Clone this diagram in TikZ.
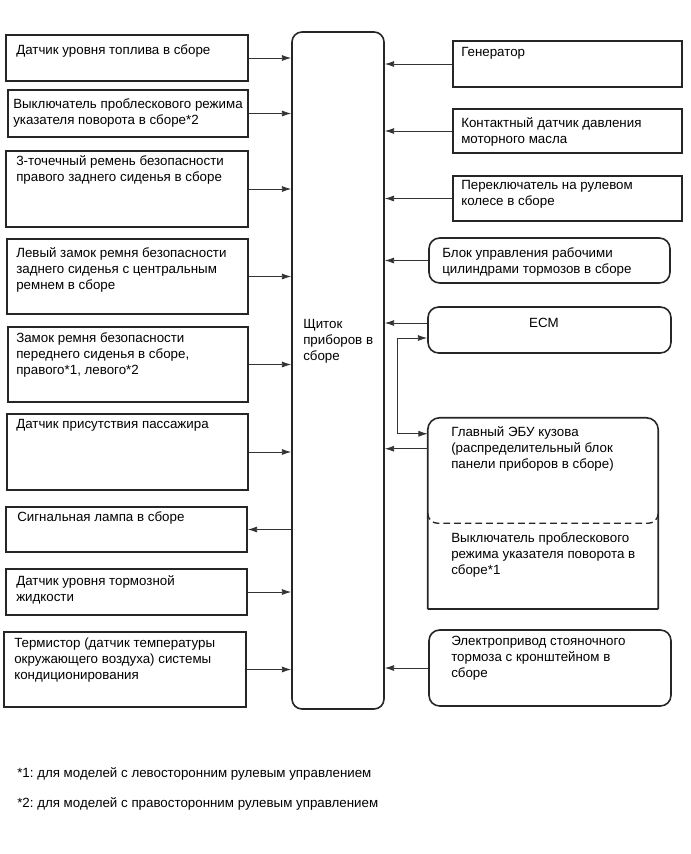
\documentclass[tikz,border=0pt]{standalone}
\usepackage{fontspec}
\setmainfont{Liberation Sans}
\usetikzlibrary{arrows.meta,fit}
\frenchspacing

\begin{document}
\begin{tikzpicture}[x=0.75pt,y=-0.75pt,
  >={Latex[length=7pt,width=4.5pt]},
  box/.style={draw=black!85, line width=1.2pt, inner sep=0pt},
  rbox/.style={box, rounded corners=8pt},
  ghost/.style={inner sep=0pt},
  lbl/.style={anchor=north west, inner sep=0pt, align=left, font=\fontsize{10}{12}\selectfont},
  note/.style={anchor=base west, inner sep=0pt, font=\fontsize{10}{12}\selectfont},
  conn/.style={draw=black!80, line width=0.6pt, ->},
  link/.style={draw=black!80, line width=0.6pt, <->}]

\useasboundingbox (0,0) rectangle (690,854);

%Center unit
\node[box, rounded corners=7.5pt, fit={(292,32) (384,709)}] (cb) {};
\node[lbl] (cbt) at (303,319) {Щиток\\приборов в\\сборе};

%Left column
\node[box, fit={(6,35) (248,81)}] (l1) {};
\node[lbl] (l1t) at (16,44) {Датчик уровня топлива в сборе};
\node[box, fit={(8,90) (248,137)}] (l2) {};
\node[lbl] (l2t) at (13,98) {Выключатель проблескового режима\\указателя поворота в сборе*2};
\node[box, fit={(6,151) (248,227)}] (l3) {};
\node[lbl] (l3t) at (16,155) {3-точечный ремень безопасности\\правого заднего сиденья в сборе};
\node[box, fit={(7,239) (248,314)}] (l4) {};
\node[lbl] (l4t) at (16,247) {Левый замок ремня безопасности\\заднего сиденья с центральным\\ремнем в сборе};
\node[box, fit={(8,327) (248,402)}] (l5) {};
\node[lbl] (l5t) at (16,332) {Замок ремня безопасности\\переднего сиденья в сборе,\\правого*1, левого*2};
\node[box, fit={(7,414) (248,490)}] (l6) {};
\node[lbl] (l6t) at (16,419) {Датчик присутствия пассажира};
\node[box, fit={(6,507) (247,552)}] (l7) {};
\node[lbl] (l7t) at (17,511) {Сигнальная лампа в сборе};
\node[box, fit={(6,569) (247,615)}] (l8) {};
\node[lbl] (l8t) at (16,575) {Датчик уровня тормозной\\жидкости};
\node[box, fit={(4,632) (246,707)}] (l9) {};
\node[lbl] (l9t) at (14,638) {Термистор (датчик температуры\\окружающего воздуха) системы\\кондиционирования};

%Right column
\node[box, fit={(453,41) (682,87)}] (r1) {};
\node[lbl] (r1t) at (461,47) {Генератор};
\node[box, fit={(453,109) (682,153)}] (r2) {};
\node[lbl] (r2t) at (461,117) {Контактный датчик давления\\моторного масла};
\node[box, fit={(453,176) (682,221)}] (r3) {};
\node[lbl] (r3t) at (461,180) {Переключатель на рулевом\\колесе в сборе};
\node[rbox, fit={(429,238) (670,283)}] (r4) {};
\node[lbl] (r4t) at (442,247) {Блок управления рабочими\\цилиндрами тормозов в сборе};
\node[rbox, fit={(428,307) (671,353)}] (ecm) {};
\node[lbl, anchor=north] (ecmt) at (544,318) {ECM};

%Main body ECU with flasher relay
\node[ghost, fit={(428,418) (658,523)}] (becu) {};
\node[ghost, fit={(428,523) (658,609)}] (tsw) {};
\draw[draw=black!85, line width=1.2pt, rounded corners=9pt] (tsw.south west) -- (becu.north west) -- (becu.north east) -- (tsw.south east);
\draw[draw=black!85, line width=1.2pt] (tsw.south west) -- (tsw.south east);
\draw[draw=black!85, line width=1pt, dash pattern=on 5pt off 3pt, rounded corners=7.5pt] ([yshift=7.5pt]becu.south west) -- (becu.south west) -- (becu.south east) -- ([yshift=7.5pt]becu.south east);
\node[lbl] (becut) at (451,426) {Главный ЭБУ кузова\\(распределительный блок\\панели приборов в сборе)};
\node[lbl] (tswt) at (451,532) {Выключатель проблескового\\режима указателя поворота в\\сборе*1};

\node[rbox, fit={(429,630) (671,706)}] (r7) {};
\node[lbl] (r7t) at (451,636) {Электропривод стояночного\\тормоза с кронштейном в\\сборе};

%Footnotes
\node[note] (fn1) at (17,777) {*1: для моделей с левосторонним рулевым управлением};
\node[note] (fn2) at (17,807) {*2: для моделей с правосторонним рулевым управлением};

%Connectors
\foreach \n in {l1,l2,l3,l4,l5,l6,l8,l9}
  \draw[conn] (\n.east) -- (\n.east -| cb.west);
\draw[conn] (l7.east -| cb.west) -- (l7.east);
\foreach \n in {r1,r2,r3,r4,r7}
  \draw[conn] (\n.west) -- (\n.west -| cb.east);
\coordinate (ecmout) at ([yshift=5.25pt]ecm.west);
\coordinate (ecmin) at ([yshift=-6pt]ecm.west);
\coordinate (becuin) at ([yshift=-12pt]becu.north west);
\coordinate (becuout) at ([yshift=-23.25pt]becu.north west);
\draw[conn] (ecmout) -- (ecmout -| cb.east);
\draw[conn] (becuout) -- (becuout -| cb.east);
\draw[link] (ecmin) -- ++(-30,0) |- (becuin);

\end{tikzpicture}
\end{document}
